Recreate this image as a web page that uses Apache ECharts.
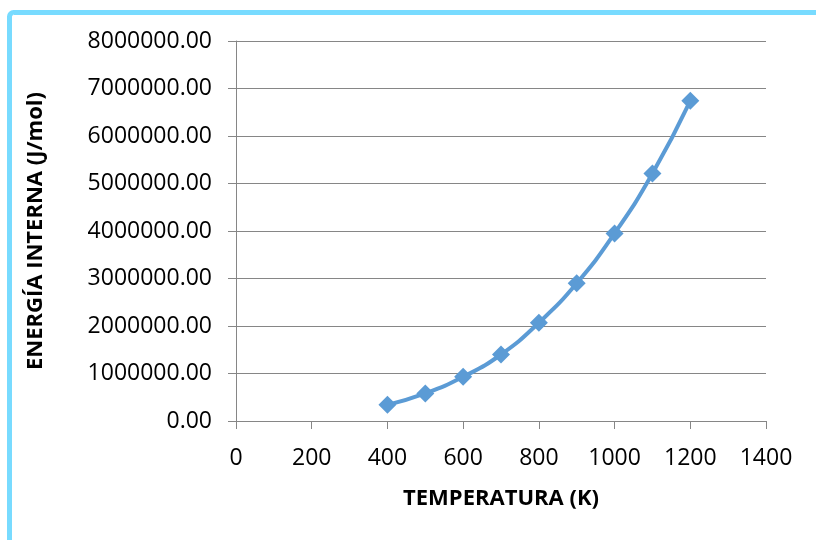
<!DOCTYPE html>
<html><head><meta charset="utf-8">
<script src="https://cdn.jsdelivr.net/npm/echarts@6/dist/echarts.min.js"></script>
<style>html,body{margin:0;padding:0;background:#fff}#c{width:816px;height:540px}</style>
</head><body><div id="c"></div>
<script>
const temperatures = [400, 500, 600, 700, 800, 900, 1000, 1100, 1200];
const energies = [340000, 580000, 930000, 1400000, 2070000, 2900000, 3950000, 5210000, 6740000];
const xTitle = 'TEMPERATURA (K)';
const yTitle = 'ENERGÍA INTERNA (J/mol)';

const chart = echarts.init(document.getElementById('c'), null, {renderer: 'canvas'});
const font = '"Open Sans", "Liberation Sans", sans-serif';
chart.setOption({
  animation: false,
  backgroundColor: '#fff',
  graphic: [{
    type: 'rect', z: -1, silent: true,
    shape: {x: 9.5, y: 12.5, width: 900, height: 700, r: 4},
    style: {fill: 'none', stroke: '#78dbff', lineWidth: 5}
  }],
  grid: {left: 236, right: 50, top: 41, bottom: 119, containLabel: false},
  xAxis: {
    type: 'value', min: 0, max: 1400, interval: 200,
    name: xTitle, nameLocation: 'middle', nameGap: 67,
    nameTextStyle: {fontFamily: font, fontSize: 22, fontWeight: 'bold', color: '#000'},
    axisLine: {show: true, lineStyle: {color: '#868686', width: 1}},
    axisTick: {show: true, length: 8, lineStyle: {color: '#868686'}},
    axisLabel: {fontFamily: font, fontSize: 23, color: '#000', margin: 26,
      formatter: v => String(v)},
    splitLine: {show: false}
  },
  yAxis: {
    type: 'value', min: 0, max: 8000000, interval: 1000000,
    name: yTitle, nameLocation: 'middle', nameGap: 189, nameRotate: 90,
    nameTextStyle: {fontFamily: font, fontSize: 22, fontWeight: 'bold', color: '#000'},
    axisLine: {show: true, lineStyle: {color: '#868686', width: 1}},
    axisTick: {show: true, length: 8, lineStyle: {color: '#868686'}},
    axisLabel: {fontFamily: font, fontSize: 23, color: '#000', margin: 24,
      formatter: v => v.toFixed(2)},
    splitLine: {show: true, lineStyle: {color: '#868686', width: 1}}
  },
  series: [{
    type: 'line', smooth: true,
    data: temperatures.map((t, i) => [t, energies[i]]),
    symbol: 'diamond', symbolSize: 18,
    lineStyle: {color: '#5b9bd5', width: 4},
    itemStyle: {color: '#5b9bd5'}
  }]
});
</script></body></html>
